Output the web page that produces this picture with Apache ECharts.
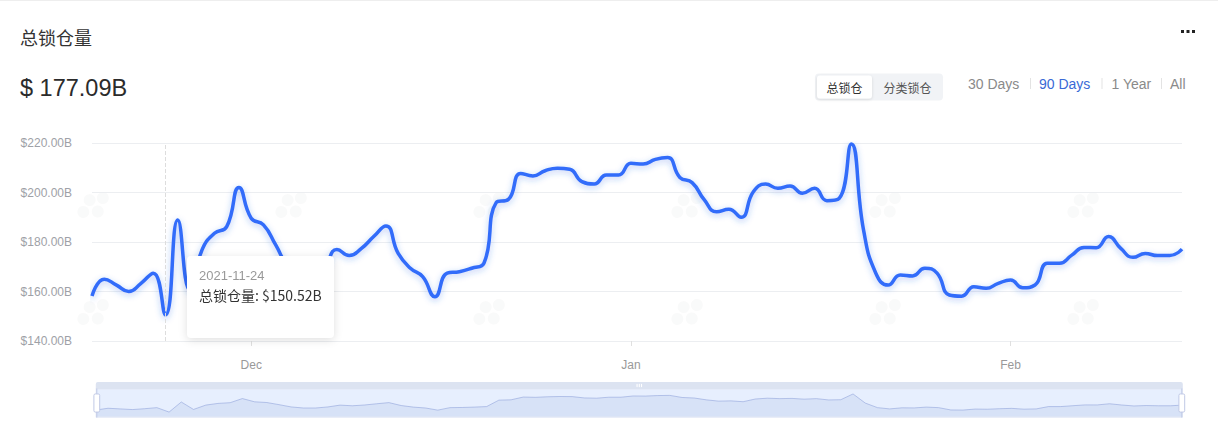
<!DOCTYPE html>
<html>
<head>
<meta charset="utf-8">
<script src="https://cdn.jsdelivr.net/npm/echarts@6/dist/echarts.min.js"></script>
<style>
html,body{margin:0;padding:0;background:#fff;}
#main{width:1218px;height:436px;}
</style>
</head>
<body>
<div id="main"></div>
<script>
// ---- data ----
const startDate = '2021-11-18';
const dayCount = 90;
const tvlValues = [
  158.2, 165.0, 162.6, 160.0, 163.3, 167.4, 150.52, 188.9, 160.5, 177.0,
  183.5, 186.2, 202.0, 189.6, 186.9, 178.8, 170.0, 166.0, 166.0, 170.0,
  177.0, 174.5, 177.4, 182.2, 186.5, 175.4, 169.4, 166.0, 157.9, 167.4,
  168.0, 169.4, 171.4, 195.9, 197.2, 207.7, 206.7, 208.8, 209.8, 209.4,
  204.4, 203.4, 207.1, 207.1, 211.8, 211.5, 213.4, 214.1, 206.1, 204.0,
  197.0, 192.2, 193.2, 190.0, 200.3, 203.4, 201.7, 202.6, 199.7, 201.7,
  196.7, 197.6, 219.6, 184.8, 167.4, 162.6, 166.7, 166.3, 169.4, 167.4,
  158.6, 158.1, 161.9, 161.3, 163.3, 164.6, 161.5, 162.6, 171.4, 171.4,
  174.7, 177.8, 177.7, 182.2, 177.4, 173.8, 175.4, 174.5, 174.5, 177.09
];
const monthNames = ['Jan','Feb','Mar','Apr','May','Jun','Jul','Aug','Sep','Oct','Nov','Dec'];
const yTicks = [140, 160, 180, 200, 220];
const titleText = '总锁仓量';
const currentValue = '$ 177.09B';
const seriesName = '总锁仓量';
const segButtons = ['总锁仓', '分类锁仓'];
const rangeButtons = ['30 Days', '90 Days', '1 Year', 'All'];
const activeRange = 1;
const tooltipIndex = 6;

// build category dates
const dates = [];
{
  const d0 = new Date(startDate + 'T00:00:00Z');
  for (let i = 0; i < dayCount; i++) {
    const d = new Date(d0.getTime() + i * 86400000);
    const mm = String(d.getUTCMonth() + 1).padStart(2, '0');
    const dd = String(d.getUTCDate()).padStart(2, '0');
    dates.push(d.getUTCFullYear() + '-' + mm + '-' + dd);
  }
}
const isMonthStart = (idx) => dates[idx].endsWith('-01');

const LATIN = '"Liberation Sans", Arial, "Noto Sans CJK SC", sans-serif';
const CJK = '"Noto Sans CJK SC", "Liberation Sans", sans-serif';

// watermark graphics
const wmX = [128, 326, 524, 722, 920, 1118];
const wmY = [185, 292];
const wmFill = 'rgba(20,30,60,0.022)';
const watermarks = [];
wmY.forEach(y => wmX.forEach(x => {
  watermarks.push({
    type: 'group', x: x, y: y, rotation: 0.62, silent: true, z: -10,
    children: [
      {type:'circle', shape:{cx:-52, cy:-4, r:6}, style:{fill:wmFill}},
      {type:'circle', shape:{cx:-40, cy:-10, r:6}, style:{fill:wmFill}},
      {type:'circle', shape:{cx:-40, cy:4, r:6}, style:{fill:wmFill}},
      {type:'circle', shape:{cx:-28, cy:-4, r:6}, style:{fill:wmFill}},
      {type:'text', x:-18, y:0, style:{text:'OKLink', fontSize:26, fontWeight:'bold', fontFamily:LATIN, fill:wmFill, textVerticalAlign:'middle'}}
    ]
  });
}));

// header graphics
const header = [
  {type:'rect', shape:{x:0, y:0, width:1218, height:1}, style:{fill:'#eeeeee'}, silent:true},
  {type:'text', x:20, y:37, style:{text:titleText, fontSize:18, fontFamily:CJK, fill:'#333', textVerticalAlign:'middle'}},
  {type:'text', x:20, y:88, style:{text:currentValue, fontSize:23.5, fontFamily:LATIN, fill:'#2b2b2b', textVerticalAlign:'middle'}},
  // more dots
  {type:'rect', shape:{x:1181, y:30, width:3, height:3}, style:{fill:'#222'}},
  {type:'rect', shape:{x:1186.5, y:30, width:3, height:3}, style:{fill:'#222'}},
  {type:'rect', shape:{x:1192, y:30, width:3, height:3}, style:{fill:'#222'}},
  // segmented control
  {type:'rect', shape:{x:815, y:73.5, width:128, height:27, r:4}, style:{fill:'#f1f3f6'}},
  {type:'rect', shape:{x:817, y:75.5, width:55, height:23, r:3}, style:{fill:'#fff', shadowBlur:3, shadowColor:'rgba(0,0,0,0.12)', shadowOffsetY:1}},
  {type:'text', x:844.5, y:87.5, style:{text:segButtons[0], fontSize:12, fontFamily:CJK, fill:'#333', textAlign:'center', textVerticalAlign:'middle'}},
  {type:'text', x:907.5, y:87.5, style:{text:segButtons[1], fontSize:12, fontFamily:CJK, fill:'#555', textAlign:'center', textVerticalAlign:'middle'}}
];
const rangeX = [968, 1039, 1111.5, 1170];
const sepX = [1030, 1101.5, 1161];
rangeButtons.forEach((t, i) => {
  header.push({type:'text', x:rangeX[i], y:83.5, style:{text:t, fontSize:14, fontFamily:LATIN, fill: i === activeRange ? '#3a6ad6' : '#8a8a8a', textVerticalAlign:'middle'}});
});
sepX.forEach(x => header.push({type:'rect', shape:{x:x, y:78, width:1, height:11}, style:{fill:'#e3e3e3'}}));

const chart = echarts.init(document.getElementById('main'), null, {renderer:'svg'});
chart.setOption({
  animation: false,
  backgroundColor: '#fff',
  grid: {left: 92, right: 36, top: 143, bottom: 95},
  tooltip: {
    trigger: 'axis',
    alwaysShowContent: true,
    transitionDuration: 0,
    position: [187, 256],
    backgroundColor: '#fff',
    borderWidth: 0,
    padding: [10, 12],
    extraCssText: 'box-sizing:border-box;width:147px;height:82px;border-radius:4px;box-shadow:0 2px 10px rgba(0,0,0,0.13);',
    axisPointer: {type: 'line', lineStyle: {type: 'dashed', color: '#dddddd', width: 1}},
    formatter: function (params) {
      const p = params[0];
      return '<div style="font-family:' + LATIN.replace(/"/g, "'") + ';font-size:13px;line-height:20px;color:#999;">' + p.name + '</div>' +
             '<div style="font-family:' + CJK.replace(/"/g, "'") + ';font-size:14px;line-height:18px;color:#333;">' + p.seriesName + ': $' + p.value.toFixed(2) + 'B</div>';
    }
  },
  xAxis: {
    type: 'category',
    data: dates,
    boundaryGap: false,
    axisLine: {show: false},
    axisTick: {show: true, interval: (i) => isMonthStart(i), length: 5, lineStyle: {color: '#e0e0e0'}},
    axisLabel: {
      interval: (i) => isMonthStart(i),
      formatter: (v) => monthNames[parseInt(v.slice(5, 7), 10) - 1],
      color: '#999', fontSize: 12, fontFamily: LATIN, margin: 18
    },
    splitLine: {show: false}
  },
  yAxis: {
    type: 'value',
    min: yTicks[0],
    max: yTicks[yTicks.length - 1],
    interval: yTicks[1] - yTicks[0],
    axisLine: {show: false},
    axisTick: {show: false},
    axisLabel: {formatter: (v) => '$' + v.toFixed(2) + 'B', color: '#9ea1a7', fontSize: 12, fontFamily: LATIN, margin: 20},
    splitLine: {lineStyle: {color: '#eceef1', width: 1}}
  },
  dataZoom: [{
    type: 'slider',
    start: 0, end: 100,
    left: 93, right: 38,
    top: 382, height: 29,
    showDetail: false,
    borderColor: '#e3e8f3',
    moveHandleStyle: {color: '#dce3f1', opacity: 1},
    fillerColor: 'rgba(135,175,250,0.2)'
  }],
  graphic: watermarks.concat(header),
  series: [{
    name: seriesName,
    type: 'line',
    data: tvlValues,
    smooth: true,
    symbol: 'none',
    lineStyle: {width: 3.5, color: '#2d63e4', shadowColor: 'rgba(45,99,228,0.35)', shadowBlur: 6, shadowOffsetY: 2},
    itemStyle: {color: '#2d63e4'}
  }]
});
chart.dispatchAction({type: 'showTip', seriesIndex: 0, dataIndex: tooltipIndex});
</script>
</body>
</html>
